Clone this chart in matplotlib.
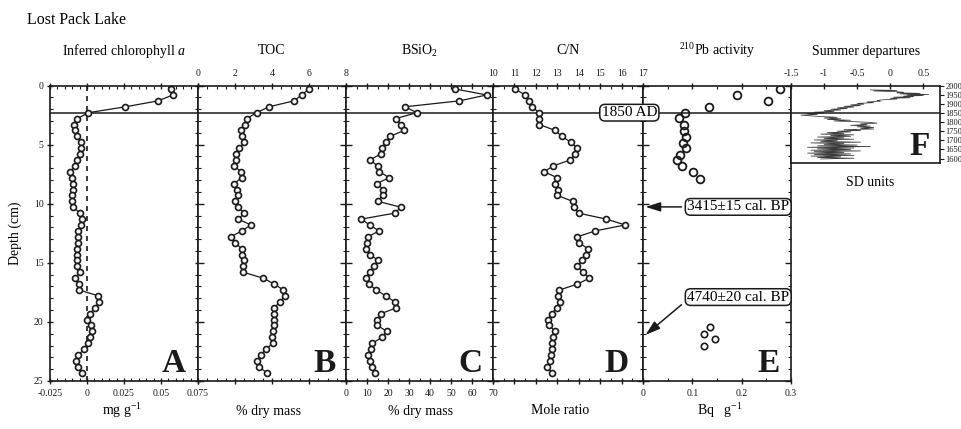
import matplotlib.pyplot as plt
from matplotlib.ticker import MultipleLocator, FuncFormatter

plt.rcParams['font.family'] = ['Liberation Serif', 'DejaVu Serif']
plt.rcParams['mathtext.fontset'] = 'custom'
plt.rcParams['mathtext.rm'] = 'Liberation Serif'
plt.rcParams['mathtext.it'] = 'Liberation Serif:italic'
plt.rcParams['mathtext.bf'] = 'Liberation Serif:bold'
plt.rcParams['axes.unicode_minus'] = False

# sample depths (cm)
depth = [0.3, 0.8, 1.3, 1.8, 2.3, 2.8, 3.3, 3.8, 4.3, 4.8,
         5.3, 5.8, 6.3, 6.8, 7.3, 7.8, 8.3, 8.8, 9.3, 9.8,
         10.3, 10.8, 11.3, 11.8, 12.3, 12.8, 13.3, 13.8, 14.3, 14.8,
         15.3, 15.8, 16.3, 16.8, 17.3, 17.8, 18.3, 18.8, 19.3, 19.8,
         20.3, 20.8, 21.3, 21.8, 22.3, 22.8, 23.3, 23.8, 24.3]

# A  inferred chlorophyll a (mg g-1)
chl = [0.057, 0.058, 0.048, 0.026, 0.001, -0.0065, -0.0086, -0.0081, -0.0070, -0.0041,
       -0.0041, -0.0045, -0.0070, -0.0081, -0.0115, -0.0099, -0.0092, -0.0092, -0.0104, -0.0099,
       -0.0092, -0.0047, -0.0036, -0.0041, -0.0059, -0.0059, -0.0063, -0.0065, -0.0065, -0.0070,
       -0.0070, -0.0047, -0.0081, -0.0052, -0.0052, 0.0077, 0.0081, 0.0054, 0.0020, -0.0002,
       0.0027, 0.0032, 0.0020, 0.0009, -0.0018, -0.0059, -0.0074, -0.0063, -0.0032]

# B  TOC (% dry mass)
toc = [6.0, 5.6, 5.19, 3.84, 3.17, 2.63, 2.54, 2.32, 2.40, 2.50,
       2.22, 2.04, 2.04, 1.96, 2.32, 2.36, 1.96, 2.09, 2.18, 2.00,
       2.18, 2.50, 2.18, 2.86, 2.36, 1.78, 2.00, 2.36, 2.36, 2.50,
       2.45, 2.45, 3.53, 4.13, 4.61, 4.70, 4.43, 4.13, 4.13, 4.13,
       4.13, 4.07, 3.98, 4.07, 3.66, 3.41, 3.17, 3.30, 3.71]

# C  BSiO2 (% dry mass)
bsio2 = [52.1, 67.0, 54.0, 28.1, 33.7, 23.7, 26.2, 27.8, 21.0, 19.0,
         17.0, 16.5, 11.4, 15.1, 15.9, 20.6, 14.6, 17.8, 17.5, 15.1,
         26.2, 23.2, 7.3, 11.3, 15.7, 10.5, 10.0, 9.7, 11.6, 15.2,
         13.2, 11.3, 9.4, 11.0, 14.4, 18.9, 23.2, 24.0, 16.8, 14.9,
         14.9, 19.5, 17.3, 12.5, 12.0, 10.5, 11.3, 12.5, 13.7]

# D  C/N (mole ratio)
cn = [11.03, 11.50, 11.70, 11.81, 12.16, 12.16, 12.16, 12.90, 13.21, 13.63,
      13.94, 13.83, 13.60, 12.82, 12.38, 13.00, 12.90, 13.05, 13.00, 13.72,
      13.78, 13.99, 15.28, 16.17, 14.77, 13.94, 14.03, 14.41, 14.34, 14.14,
      13.94, 14.20, 14.50, 13.94, 13.10, 13.05, 13.13, 12.97, 12.74, 12.58,
      12.63, 12.90, 12.82, 12.74, 12.74, 12.69, 12.66, 12.54, 12.74]

# E  210Pb activity (Bq g-1)
pb_depth = [0.33, 0.8, 1.29, 1.8, 2.3, 2.78, 3.35, 3.83, 4.33, 4.84,
            5.27, 5.89, 6.31, 6.82, 7.3, 7.87]
pb = [0.278, 0.190, 0.254, 0.133, 0.086, 0.072, 0.084, 0.084, 0.088, 0.082,
      0.088, 0.074, 0.069, 0.080, 0.101, 0.116]
pb_deep_depth = [20.44, 21.0, 21.43, 22.0]
pb_deep = [0.135, 0.124, 0.146, 0.124]

# F  summer temperature departures (SD units) by year AD
sd_year = [1976, 1973, 1970, 1967, 1963, 1960, 1957, 1954, 1951, 1948,
           1945, 1942, 1939, 1936, 1933, 1930, 1926, 1922, 1918, 1914,
           1910, 1906, 1902, 1898, 1894, 1890, 1886, 1882, 1878, 1874,
           1870, 1866, 1862, 1858, 1854, 1850, 1846, 1842, 1838, 1834,
           1830, 1826, 1822, 1818, 1814, 1810, 1806, 1802, 1798, 1794,
           1790, 1786, 1782, 1778, 1774, 1770, 1766, 1762, 1758, 1754,
           1750, 1746, 1742, 1738, 1734, 1730, 1726, 1722, 1718, 1714,
           1710, 1706, 1702, 1698, 1694, 1690, 1686, 1682, 1678, 1674,
           1670, 1666, 1662, 1658, 1654, 1650, 1646, 1642, 1638, 1634,
           1630, 1626, 1622, 1618, 1614, 1610, 1606, 1602, 1598]
sd_value = [-0.30, 0.10, -0.25, 0.05, 0.20, 0.10, 0.45, 0.15, 0.58, 0.25,
            0.50, 0.20, 0.35, 0.05, 0.30, 0.00, 0.10, -0.10, -0.20, -0.15,
            -0.35, -0.25, -0.50, -0.40, -0.60, -0.45, -0.70, -0.55, -0.80, -0.65,
            -0.90, -0.75, -1.00, -0.85, -1.15, -1.00, -1.25, -1.10, -1.35, -1.20,
            -1.05, -0.80, -1.00, -0.75, -0.95, -0.60, -0.85, -0.55, -0.30, -0.20,
            -0.45, -0.35, -0.60, -0.30, -0.50, -0.25, -0.45, -0.25, -0.70, -0.45,
            -0.80, -0.60, -0.95, -0.70, -1.05, -0.55, -0.90, -0.60, -1.10, -0.70,
            -1.00, -0.55, -1.15, -0.80, -1.05, -0.45, -1.20, -0.70, -1.00, -0.50,
            -1.10, -0.30, -1.25, -0.55, -1.10, -0.60, -1.20, -0.45, -1.15, -0.70,
            -1.25, -0.60, -1.15, -0.55, -1.20, -0.75, -1.10, -0.55, -1.05]

W, H = 962, 429
INK = '#1a1a1a'
fig = plt.figure(figsize=(W / 100, H / 100), dpi=100)


def add_panel(x0, x1, y0=85.5, y1=381):
    return fig.add_axes([x0 / W, 1 - y1 / H, (x1 - x0) / W, (y1 - y0) / H])


def short_num(v, pos):
    v = round(v, 4) + 0.0
    return '{:g}'.format(v)


def style(ax, major, minor, labeltop=False, labelbottom=False, labelleft=False):
    ax.set_ylim(25, 0)
    ax.xaxis.set_major_locator(MultipleLocator(major))
    ax.xaxis.set_minor_locator(MultipleLocator(minor))
    ax.xaxis.set_major_formatter(FuncFormatter(short_num))
    ax.yaxis.set_major_locator(MultipleLocator(5))
    ax.yaxis.set_minor_locator(MultipleLocator(1))
    ax.tick_params(which='both', colors=INK, labelsize=7, top=True, bottom=True,
                   left=True, right=True, labeltop=labeltop, labelbottom=labelbottom,
                   labelleft=labelleft, labelright=False)
    ax.tick_params(axis='x', which='major', direction='inout', length=5, width=1, pad=3)
    ax.tick_params(axis='y', which='major', direction='in', length=4, width=1)
    ax.tick_params(which='minor', direction='in', length=2, width=0.8)
    if labelleft:
        ax.tick_params(axis='y', which='major', direction='inout', length=5, pad=2)
    for s in ax.spines.values():
        s.set_linewidth(1.2)
        s.set_color(INK)
    ax.axhline(2.3, color=INK, lw=1.1, zorder=1)


def profile(ax, x, y):
    ax.plot(x, y, '-o', color=INK, lw=0.9, ms=4.3, mfc='#f4f4f4', mec=INK, mew=1.2,
            zorder=3, clip_on=False)


def letter(ax, s, xf=0.93):
    ax.text(xf, 0.031, s, transform=ax.transAxes, ha='right', va='baseline',
            fontsize=24, fontweight='bold', color=INK)


axA = add_panel(50, 198)
axA.set_xlim(-0.025, 0.075)
style(axA, 0.025, 0.005, labelbottom=True, labelleft=True)
axA.axvline(0, color=INK, lw=1.2, ls=(0, (3, 3)), zorder=2)
profile(axA, chl, depth)
letter(axA, 'A', 0.915)

axB = add_panel(198, 346)
axB.set_xlim(0, 8)
style(axB, 2, 0.5, labeltop=True)
profile(axB, toc, depth)
letter(axB, 'B')

axC = add_panel(346, 493)
axC.set_xlim(0, 70)
style(axC, 10, 5, labelbottom=True)
profile(axC, bsio2, depth)
letter(axC, 'C')

axD = add_panel(493, 643)
axD.set_xlim(10, 17)
style(axD, 1, 0.5, labeltop=True)
profile(axD, cn, depth)
letter(axD, 'D', 0.905)

axE = add_panel(643, 791)
axE.set_xlim(0, 0.3)
style(axE, 0.1, 0.05, labelbottom=True)
axE.plot(pb, pb_depth, 'o', ms=5.6, mfc='none', mec=INK, mew=1.3, zorder=3)
axE.plot(pb_deep, pb_deep_depth, 'o', ms=4.6, mfc='none', mec=INK, mew=1.2, zorder=3)
letter(axE, 'E', 0.925)

box = dict(boxstyle='round,pad=0.12,rounding_size=0.35', fc='white', ec=INK, lw=1.1)
axE.text(-0.0277, 2.3, '1850 AD', ha='center', va='center', fontsize=11,
         bbox=box, zorder=6, clip_on=False)
axE.text(0.193, 10.27, '3415±15 cal. BP', ha='center', va='center', fontsize=11,
         bbox=box, zorder=6, clip_on=False)
axE.text(0.193, 17.9, '4740±20 cal. BP', ha='center', va='center', fontsize=11,
         bbox=box, zorder=6, clip_on=False)
arrow = dict(arrowstyle='-|>,head_length=0.9,head_width=0.28', color=INK, lw=1.1,
             shrinkA=0, shrinkB=0)
axE.annotate('', xy=(0.005, 10.27), xytext=(0.078, 10.27), arrowprops=arrow,
             annotation_clip=False, zorder=5)
axE.annotate('', xy=(0.005, 21.1), xytext=(0.078, 18.55), arrowprops=arrow,
             annotation_clip=False, zorder=5)

axF = add_panel(791, 940, 85.5, 163)
axF.set_xlim(-1.5, 0.75)
axF.set_ylim(1576, 2000)
axF.plot(sd_value, sd_year, color='#3a3a3a', lw=0.55)
axF.axhline(1850, color=INK, lw=1.1)
axF.xaxis.set_major_locator(MultipleLocator(0.5))
axF.xaxis.set_major_formatter(FuncFormatter(short_num))
axF.yaxis.set_major_locator(MultipleLocator(50))
axF.tick_params(axis='x', top=True, bottom=False, labeltop=True, labelbottom=False,
                direction='inout', length=5, width=1, labelsize=7, colors=INK, pad=3)
axF.tick_params(axis='y', left=False, right=True, labelleft=False, labelright=True,
                direction='out', length=3, width=0.8, labelsize=6, colors=INK, pad=1)
for s in axF.spines.values():
    s.set_linewidth(1.2)
    s.set_color(INK)
axF.text(0.935, 0.1, 'F', transform=axF.transAxes, ha='right', va='baseline',
         fontsize=24, fontweight='bold', color=INK)

fig.text(27 / W, 1 - 20 / H, 'Lost Pack Lake', fontsize=11.5, ha='left', va='center')
titles = ['Inferred chlorophyll $a$', 'TOC', 'BSiO$_2$', 'C/N',
          '$^{210}$Pb activity', 'Summer departures']
centers = [124, 272, 420, 568, 717, 866]
for t, c in zip(titles, centers):
    fig.text(c / W, 1 - 51 / H, t, fontsize=10, ha='center', va='center')

units = ['mg g$^{-1}$', '% dry mass', '% dry mass', 'Mole ratio', 'Bq   g$^{-1}$']
for u, c in zip(units, [122, 268, 420, 560, 720]):
    fig.text(c / W, 1 - 411 / H, u, fontsize=10, ha='center', va='center')
fig.text(870 / W, 1 - 183 / H, 'SD units', fontsize=10, ha='center', va='center')
fig.text(15 / W, 1 - 233 / H, 'Depth (cm)', fontsize=10, rotation=90,
         ha='center', va='center')

fig.savefig('out.png', dpi=100)
